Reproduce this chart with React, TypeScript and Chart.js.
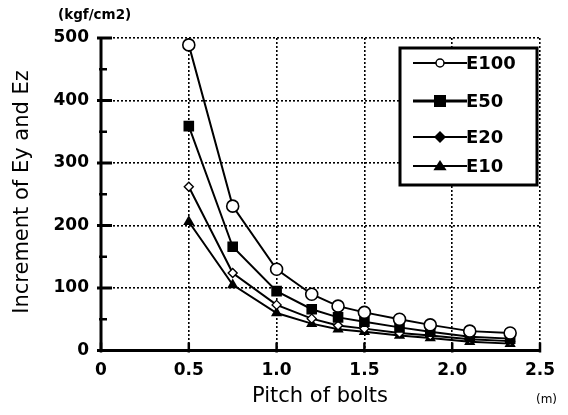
import React, { useEffect, useRef } from "react";
import { Chart, registerables } from "chart.js";

Chart.register(...registerables);

const pitch = [0.5, 0.75, 1.0, 1.2, 1.35, 1.5, 1.7, 1.875, 2.1, 2.33];
const e100 = [489, 231, 130, 90, 71, 61, 50, 41, 31, 28];
const e50 = [359, 166, 95, 66, 53, 46, 37, 30, 22, 19];
const e20 = [262, 124, 73, 51, 40, 35, 28, 24, 18, 15];
const e10 = [206, 105, 60, 43, 34, 30, 24, 20, 14, 11];

const seriesNames = ["E100", "E50", "E20", "E10"];
const xTicks = [0, 0.5, 1, 1.5, 2, 2.5];
const yTicks = [0, 100, 200, 300, 400, 500];

const FONT = "'DejaVu Sans', 'Liberation Sans', Arial, sans-serif";

function drawMarker(ctx: CanvasRenderingContext2D, kind: string, x: number, y: number, r: number) {
  ctx.save();
  ctx.lineWidth = 1.5;
  ctx.strokeStyle = "#000";
  ctx.fillStyle = "#000";
  ctx.beginPath();
  if (kind === "circle") {
    ctx.arc(x, y, r, 0, Math.PI * 2);
    ctx.fillStyle = "#fff";
    ctx.fill();
    ctx.stroke();
  } else if (kind === "rect") {
    ctx.rect(x - r, y - r, 2 * r, 2 * r);
    ctx.fill();
  } else if (kind === "rectRot") {
    ctx.moveTo(x - r, y);
    ctx.lineTo(x, y - r);
    ctx.lineTo(x + r, y);
    ctx.lineTo(x, y + r);
    ctx.closePath();
    ctx.fill();
  } else {
    ctx.moveTo(x, y - r);
    ctx.lineTo(x + r * 1.1, y + r * 0.7);
    ctx.lineTo(x - r * 1.1, y + r * 0.7);
    ctx.closePath();
    ctx.fill();
  }
  ctx.restore();
}

const decor = {
  id: "decor",
  afterDraw(chart: any) {
    const ctx: CanvasRenderingContext2D = chart.ctx;
    const { left, right, top, bottom } = chart.chartArea;
    const xs = chart.scales.x;
    const ys = chart.scales.y;
    ctx.save();
    // axes
    ctx.strokeStyle = "#000";
    ctx.lineWidth = 3;
    ctx.beginPath();
    ctx.moveTo(left, top - 1);
    ctx.lineTo(left, bottom);
    ctx.lineTo(right + 1, bottom);
    ctx.stroke();
    // y ticks inward
    for (let v = 0; v <= 500; v += 50) {
      const py = ys.getPixelForValue(v);
      const major = v % 100 === 0;
      ctx.lineWidth = major ? 3 : 2.5;
      ctx.beginPath();
      ctx.moveTo(left - (major ? 4 : 2), py);
      ctx.lineTo(left + (major ? 11 : 6), py);
      ctx.stroke();
    }
    // x ticks inward
    for (const v of xTicks) {
      const px = xs.getPixelForValue(v);
      ctx.lineWidth = 2.5;
      ctx.beginPath();
      ctx.moveTo(px, bottom + 2);
      ctx.lineTo(px, bottom - 8);
      ctx.stroke();
    }
    // titles
    ctx.fillStyle = "#000";
    ctx.textAlign = "center";
    ctx.textBaseline = "middle";
    ctx.font = `21px ${FONT}`;
    ctx.fillText("Pitch of bolts", 320, 397);
    ctx.save();
    ctx.translate(23, 192);
    ctx.rotate(-Math.PI / 2);
    ctx.fillText("Increment of Ey and Ez", 0, 0);
    ctx.restore();
    ctx.font = `bold 13.5px ${FONT}`;
    ctx.textAlign = "left";
    ctx.fillText("(kgf/cm2)", 58, 15);
    ctx.font = `12px ${FONT}`;
    ctx.fillText("(m)", 536, 400);

    // legend
    const bx = 400, by = 48, bw = 137, bh = 137;
    ctx.fillStyle = "#fff";
    ctx.fillRect(bx, by, bw, bh);
    ctx.lineWidth = 3;
    ctx.strokeStyle = "#000";
    ctx.strokeRect(bx, by, bw, bh);
    const kinds = ["circle", "rect", "rectRot", "triangle"];
    const rows = [63, 101, 137, 166];
    const sizes = [4, 6, 6, 6];
    ctx.font = `bold 18px ${FONT}`;
    ctx.textBaseline = "middle";
    ctx.textAlign = "left";
    seriesNames.forEach((name, i) => {
      const yy = rows[i];
      ctx.lineWidth = i === 1 ? 3 : 2;
      ctx.beginPath();
      ctx.moveTo(413, yy);
      ctx.lineTo(467, yy);
      ctx.stroke();
      drawMarker(ctx, kinds[i], 440, yy, sizes[i]);
      ctx.fillStyle = "#000";
      ctx.fillText(name, 466, yy + 1);
    });
    ctx.restore();
  },
};

export default function App() {
  const ref = useRef<HTMLCanvasElement>(null);
  useEffect(() => {
    if (!ref.current) return;
    const mk = (vals: number[]) => pitch.map((p, i) => ({ x: p, y: vals[i] }));
    const common = { borderColor: "#000", borderWidth: 2, pointBorderColor: "#000" };
    const chart = new Chart(ref.current, {
      type: "line",
      data: {
        datasets: [
          {
            ...common,
            label: seriesNames[0],
            data: mk(e100),
            pointStyle: "circle",
            pointRadius: 6,
            pointBorderWidth: 1.6,
            pointBackgroundColor: "#fff",
          },
          {
            ...common,
            label: seriesNames[1],
            data: mk(e50),
            pointStyle: "rect",
            pointRadius: 7.5,
            pointBorderWidth: 0,
            pointBackgroundColor: "#000",
          },
          {
            ...common,
            label: seriesNames[2],
            data: mk(e20),
            pointStyle: "rectRot",
            pointRadius: 4.5,
            pointBorderWidth: 1.4,
            pointBackgroundColor: "#fff",
          },
          {
            ...common,
            label: seriesNames[3],
            data: mk(e10),
            pointStyle: "triangle",
            pointRadius: 6.5,
            pointBorderWidth: 0,
            pointBackgroundColor: "#000",
          },
        ],
      },
      options: {
        responsive: false,
        animation: false,
        events: [],
        layout: { padding: { left: 0, top: 38, right: 28, bottom: 0 } },
        plugins: { legend: { display: false }, tooltip: { enabled: false } },
        elements: { line: { tension: 0 } },
        scales: {
          x: {
            type: "linear",
            min: 0,
            max: 2.5,
            afterBuildTicks: (s: any) => {
              s.ticks = xTicks.map((v) => ({ value: v }));
            },
            afterFit: (s: any) => {
              s.height = 64.5;
            },
            ticks: {
              color: "#000",
              font: { family: FONT, size: 17, weight: "bold" },
              padding: 10,
              maxRotation: 0,
              autoSkip: false,
            },
            grid: { color: "#000", lineWidth: 1.6, drawTicks: false },
            border: { display: false, dash: [2, 2] },
          },
          y: {
            type: "linear",
            min: 0,
            max: 500,
            afterBuildTicks: (s: any) => {
              s.ticks = yTicks.map((v) => ({ value: v }));
            },
            afterFit: (s: any) => {
              s.width = 101;
            },
            ticks: {
              color: "#000",
              font: { family: FONT, size: 17, weight: "bold" },
              padding: 12,
            },
            grid: { color: "#000", lineWidth: 1.6, drawTicks: false },
            border: { display: false, dash: [2, 2] },
          },
        },
      },
      plugins: [decor],
    });
    return () => chart.destroy();
  }, []);
  return (
    <div style={{ position: "absolute", left: 0, top: 0, width: 568, height: 415, background: "#fff" }}>
      <canvas ref={ref} width={568} height={415} style={{ display: "block" }} />
    </div>
  );
}
